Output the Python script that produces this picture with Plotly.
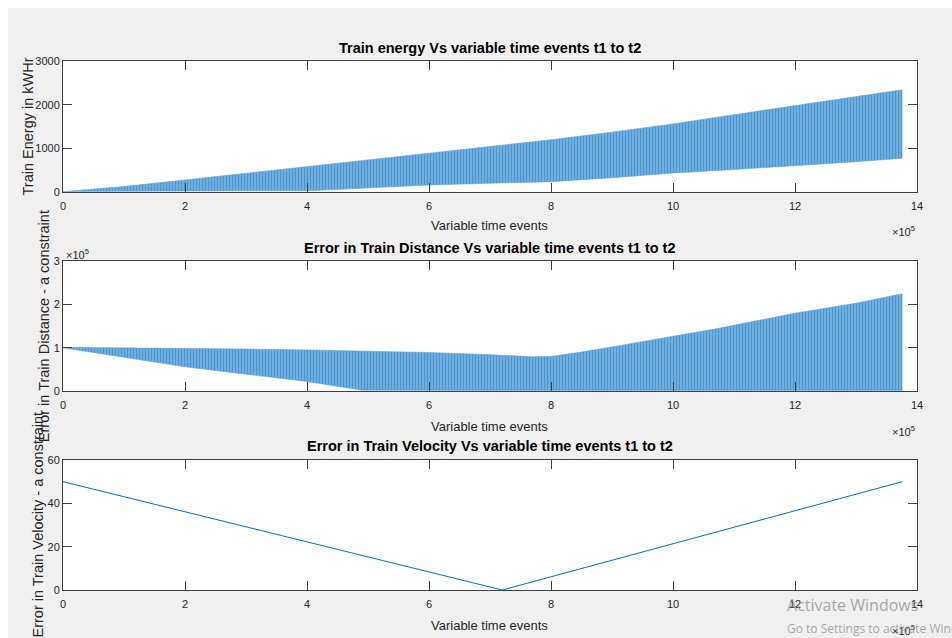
import plotly.graph_objects as go

W, H = 952, 638

# ---------------- data ----------------
# Subplot 1: train energy envelope (kWHr) vs variable time events
energy_x = [0, 1e5, 2e5, 3e5, 4e5, 4.7e5, 5e5, 6e5, 7e5, 8e5, 9e5, 10e5, 11e5, 12e5, 13e5, 13.76e5]
energy_upper = [0, 120, 270, 420, 577, 680, 720, 885, 1040, 1193, 1370, 1560, 1770, 1976, 2190, 2346]
energy_lower = [0, 10, 20, 20, 20, 70, 90, 155, 195, 231, 320, 430, 510, 593, 690, 770]

# Subplot 2: error in train distance envelope
dist_x = [0, 1e5, 2e5, 3e5, 4e5, 4.9e5, 6e5, 7e5, 7.7e5, 8e5, 8.5e5, 9e5, 9.5e5, 10e5,
          10.75e5, 11e5, 12e5, 13e5, 13.76e5]
dist_upper = [1.01e5, 1.0e5, 0.99e5, 0.97e5, 0.95e5, 0.93e5, 0.89e5, 0.84e5, 0.79e5, 0.80e5,
              0.90e5, 1.02e5, 1.14e5, 1.26e5, 1.45e5, 1.52e5, 1.80e5, 2.03e5, 2.25e5]
dist_lower = [1.0e5, 0.78e5, 0.56e5, 0.39e5, 0.22e5, 0.02e5, 0.01e5, 0.01e5, 0.01e5, 0.01e5,
              0.01e5, 0.01e5, 0.01e5, 0.01e5, 0.01e5, 0.01e5, 0.01e5, 0.01e5, 0.01e5]

# Subplot 3: error in train velocity
vel_x = [0, 7.2e5, 13.76e5]
vel_y = [50, 0, 50]

x_ticks = [0, 2e5, 4e5, 6e5, 8e5, 10e5, 12e5, 14e5]
x_ticktext = ["0", "2", "4", "6", "8", "10", "12", "14"]
y1_ticks = [0, 1000, 2000, 3000]
y2_ticks = [0, 1e5, 2e5, 3e5]
y2_ticktext = ["0", "1", "2", "3"]
y3_ticks = [0, 20, 40, 60]

titles = ["Train energy Vs variable time events t1 to t2",
          "Error in Train Distance Vs variable time events t1 to t2",
          "Error in Train Velocity Vs variable time events t1 to t2"]
ylabels = ["Train Energy in kWHr",
           "Error in Train Distance - a constraint",
           "Error in Train Velocity - a constraint"]
xlabel = "Variable time events"

# ---------------- layout helpers ----------------
def fx(p):
    return p / W

def fy(p):
    return 1 - p / H

X0, X1 = 63, 917
axes_px = [(61.3, 191.7), (261.3, 391.0), (460.0, 590.0)]

BLUE = "#0072BD"
FONT = "Liberation Sans, Arial, Helvetica, sans-serif"
AX = "#262626"

fig = go.Figure()

pattern = dict(shape="|", fgcolor=BLUE, bgcolor="#8dbde6", size=3, solidity=0.6)
EDGE = "#5a9fd6"

# band 1
fig.add_trace(go.Scatter(x=energy_x, y=energy_lower, mode="lines",
                         line=dict(width=0.6, color=EDGE), xaxis="x", yaxis="y",
                         showlegend=False, hoverinfo="skip"))
fig.add_trace(go.Scatter(x=energy_x, y=energy_upper, mode="lines", fill="tonexty",
                         fillpattern=pattern, fillcolor="#8dbde6",
                         line=dict(width=0.6, color=EDGE), xaxis="x", yaxis="y",
                         showlegend=False, hoverinfo="skip"))
# band 2
fig.add_trace(go.Scatter(x=dist_x, y=dist_lower, mode="lines",
                         line=dict(width=0.6, color=EDGE), xaxis="x2", yaxis="y2",
                         showlegend=False, hoverinfo="skip"))
fig.add_trace(go.Scatter(x=dist_x, y=dist_upper, mode="lines", fill="tonexty",
                         fillpattern=pattern, fillcolor="#8dbde6",
                         line=dict(width=0.6, color=EDGE), xaxis="x2", yaxis="y2",
                         showlegend=False, hoverinfo="skip"))
# line 3
fig.add_trace(go.Scatter(x=vel_x, y=vel_y, mode="lines",
                         line=dict(width=1, color=BLUE), xaxis="x3", yaxis="y3",
                         showlegend=False, hoverinfo="skip"))

common_axis = dict(showline=True, linecolor="#404040", linewidth=1, mirror="ticks",
                   ticks="inside", ticklen=9, tickcolor="#404040", showgrid=False,
                   zeroline=False, tickfont=dict(family=FONT, size=11, color=AX))

yranges = [[0, 3000], [0, 3e5], [0, 60]]
yticks = [(y1_ticks, [str(v) for v in y1_ticks]), (y2_ticks, y2_ticktext),
          (y3_ticks, [str(v) for v in y3_ticks])]

layout = dict(width=W, height=H, margin=dict(l=0, r=0, t=0, b=0, autoexpand=False),
              paper_bgcolor="#f0f0f0", plot_bgcolor="white", showlegend=False)

for i, (top, bot) in enumerate(axes_px):
    sfx = "" if i == 0 else str(i + 1)
    layout["xaxis" + sfx] = dict(common_axis, domain=[fx(X0), fx(X1)], range=[0, 14e5],
                                 tickvals=x_ticks, ticktext=x_ticktext,
                                 anchor="y" + sfx, ticklabelstandoff=4)
    layout["yaxis" + sfx] = dict(common_axis, domain=[fy(bot), fy(top)], range=yranges[i],
                                 tickvals=yticks[i][0], ticktext=yticks[i][1],
                                 anchor="x" + sfx)

fig.update_layout(**layout)

ann = []
cx = (X0 + X1) / 2
title_y = [48, 248, 446]
xlabel_y = [226, 426, 625]
ylabel_x = [27, 44, 37.5]
for i, (top, bot) in enumerate(axes_px):
    ann.append(dict(x=fx(cx), y=fy(title_y[i]), xref="paper", yref="paper",
                    text="<b>" + titles[i] + "</b>", showarrow=False,
                    font=dict(family=FONT, size=14.5, color="black"),
                    xanchor="center", yanchor="middle"))
    ann.append(dict(x=fx(cx), y=fy(xlabel_y[i]), xref="paper", yref="paper",
                    text=xlabel, showarrow=False,
                    font=dict(family=FONT, size=13, color=AX),
                    xanchor="center", yanchor="middle"))
    ann.append(dict(x=fx(ylabel_x[i]), y=fy((top + bot) / 2), xref="paper", yref="paper",
                    text=ylabels[i], showarrow=False, textangle=-90,
                    font=dict(family=FONT, size=14.5, color=AX),
                    xanchor="center", yanchor="middle"))
    ann.append(dict(x=fx(917), y=fy(xlabel_y[i] + 5), xref="paper", yref="paper",
                    text="×10<sup>5</sup>", showarrow=False,
                    font=dict(family=FONT, size=11, color=AX),
                    xanchor="right", yanchor="middle"))

ann.append(dict(x=fx(64), y=fy(254), xref="paper", yref="paper",
                text="×10<sup>5</sup>", showarrow=False,
                font=dict(family=FONT, size=11, color=AX),
                xanchor="left", yanchor="middle"))

# Windows watermark visible in the reference screenshot
ann.append(dict(x=fx(785), y=fy(605), xref="paper", yref="paper",
                text="Activate Windows", showarrow=False,
                font=dict(family="Open Sans, sans-serif", size=16, color="rgba(140,140,140,0.75)"),
                xanchor="left", yanchor="middle"))
ann.append(dict(x=fx(785), y=fy(628), xref="paper", yref="paper",
                text="Go to Settings to activate Windows.", showarrow=False,
                font=dict(family="Open Sans, sans-serif", size=12, color="rgba(140,140,140,0.75)"),
                xanchor="left", yanchor="middle"))

fig.update_layout(annotations=ann)

# white screenshot border at left and top
fig.update_layout(shapes=[
    dict(type="rect", xref="paper", yref="paper", x0=0, x1=fx(8), y0=0, y1=1,
         fillcolor="white", line=dict(width=0), layer="below"),
    dict(type="rect", xref="paper", yref="paper", x0=0, x1=1, y0=fy(8), y1=1,
         fillcolor="white", line=dict(width=0), layer="below"),
])

fig.write_html("out.html", config={"responsive": False, "displayModeBar": False},
               post_script="document.body.style.margin='0';document.body.style.overflow='hidden';")
